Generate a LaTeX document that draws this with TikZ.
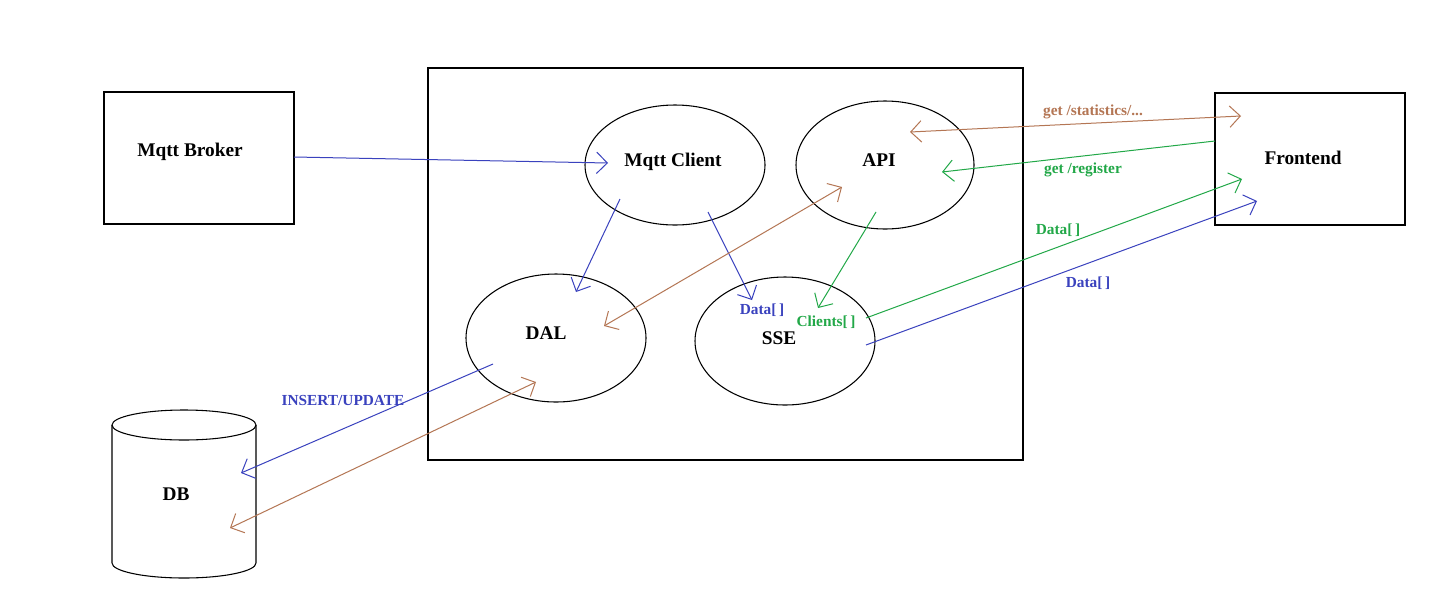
\documentclass[tikz,border=0pt]{standalone}
\usepackage{fontspec}
\setmainfont{Liberation Serif}
\usetikzlibrary{arrows.meta}
\definecolor{cblue}{RGB}{58,66,190}
\definecolor{cbrown}{RGB}{180,118,84}
\definecolor{cgreen}{RGB}{34,168,72}
\tikzset{
  box/.style={draw=black, line width=0.8pt},
  mainlbl/.style={font=\fontsize{14.5}{16}\selectfont\bfseries, text=black},
  smalllbl/.style={font=\fontsize{11.5}{13}\selectfont\bfseries},
  con/.style={line width=0.75pt, -{Straight Barb[length=8pt,width=16pt,line width=0.75pt]}},
  biconn/.style={line width=0.75pt, {Straight Barb[length=8pt,width=16pt,line width=0.75pt]}-{Straight Barb[length=8pt,width=16pt,line width=0.75pt]}},
}
\begin{document}
\begin{tikzpicture}[x=0.75pt,y=-0.75pt]
\useasboundingbox (0,0) rectangle (1452,597);
\fill[white] (0,0) rectangle (1452,597);
% containers
\draw[box] (428,68) rectangle (1023,460);
\draw[box] (104,92) rectangle (294,224);
\draw[box] (1215,93) rectangle (1405,225);
\node[mainlbl] (mb) at (190,152) {Mqtt Broker};
\node[mainlbl] (fe) at (1303,158) {Frontend};
% ellipses
\draw[line width=0.8pt] (675,165) ellipse [x radius=90, y radius=60];
\draw[line width=0.8pt] (885,165) ellipse [x radius=89, y radius=64];
\draw[line width=0.8pt] (556,338) ellipse [x radius=90, y radius=64];
\draw[line width=0.8pt] (785,341) ellipse [x radius=90, y radius=64];
\node[mainlbl] (mc) at (673,162) {Mqtt Client};
\node[mainlbl] (api) at (879,160) {API};
\node[mainlbl] (dal) at (546,333) {DAL};
\node[mainlbl] (sse) at (779,338) {SSE};
% DB cylinder
\draw[line width=0.8pt] (184,425) ellipse [x radius=72, y radius=15];
\draw[line width=0.8pt] (112,425) -- (112,563) arc[start angle=180, end angle=360, x radius=72, y radius=-15] -- (256,425);
\node[mainlbl] (db) at (176,494) {DB};
% endpoints
\coordinate (a1s) at (294,157); \coordinate (a1e) at (608,163);
\coordinate (a2s) at (620,199); \coordinate (a2e) at (576,292);
\coordinate (a3s) at (708,212); \coordinate (a3e) at (752,300);
\coordinate (a4s) at (604,326); \coordinate (a4e) at (842,187);
\coordinate (a5s) at (876,212); \coordinate (a5e) at (818,308);
\coordinate (a6s) at (910,132); \coordinate (a6e) at (1241,116);
\coordinate (a7s) at (1215,141); \coordinate (a7e) at (942,172);
\coordinate (a8s) at (866,318); \coordinate (a8e) at (1242,179);
\coordinate (a9s) at (866,345); \coordinate (a9e) at (1257,201);
\coordinate (a10s) at (493,364); \coordinate (a10e) at (241,473);
\coordinate (a11s) at (230,528); \coordinate (a11e) at (536,382);
% connectors
\draw[con, cblue] (a1s) -- (a1e);
\draw[con, cblue] (a2s) -- (a2e);
\draw[con, cblue] (a3s) -- (a3e);
\draw[biconn, cbrown] (a4s) -- (a4e);
\draw[con, cgreen] (a5s) -- (a5e);
\draw[biconn, cbrown] (a6s) -- (a6e);
\draw[con, cgreen] (a7s) -- (a7e);
\draw[con, cgreen] (a8s) -- (a8e);
\draw[con, cblue] (a9s) -- (a9e);
\draw[con, cblue] (a10s) -- (a10e);
\draw[biconn, cbrown] (a11s) -- (a11e);
% labels
\node[smalllbl, text=cbrown] (l1) at (1093,112) {get /statistics/...};
\node[smalllbl, text=cgreen] (l2) at (1083,170) {get /register};
\node[smalllbl, text=cgreen] (l3) at (1058,230) {Data[\,]};
\node[smalllbl, text=cblue] (l4) at (1088,283) {Data[\,]};
\node[smalllbl, text=cblue] (l5) at (762,310) {Data[\,]};
\node[smalllbl, text=cgreen] (l6) at (826,322) {Clients[\,]};
\node[smalllbl, text=cblue] (l7) at (343,400) {INSERT/UPDATE};
\end{tikzpicture}
\end{document}
